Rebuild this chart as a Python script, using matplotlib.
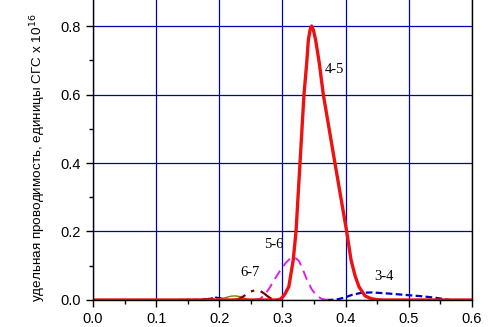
import matplotlib
matplotlib.use("Agg")
from matplotlib import pyplot as plt
from matplotlib.ticker import MultipleLocator, FormatStrFormatter

# transition 4-5 (red, thick)
x45 = [0.0, 0.09, 0.29, 0.296, 0.300, 0.304, 0.310, 0.317, 0.3214, 0.3277, 0.334,
       0.3383, 0.3409, 0.3440, 0.3462, 0.3490, 0.3525, 0.3583, 0.3646, 0.383, 0.4016,
       0.4085, 0.415, 0.421, 0.4306, 0.44, 0.45, 0.46, 0.6]
y45 = [0.0, 0.0, 0.0, 0.002, 0.008, 0.018, 0.039, 0.117, 0.20, 0.40, 0.60,
       0.691, 0.759, 0.792, 0.80, 0.788, 0.759, 0.691, 0.60, 0.40, 0.20,
       0.117, 0.07, 0.039, 0.012, 0.004, 0.001, 0.0, 0.0]

# transition 5-6 (magenta, dashed)
x56 = [0.255, 0.264, 0.272, 0.280, 0.288, 0.296, 0.305, 0.312, 0.319, 0.326,
       0.332, 0.338, 0.346, 0.354, 0.362, 0.372]
y56 = [0.0, 0.003, 0.015, 0.037, 0.062, 0.085, 0.108, 0.121, 0.125, 0.114,
       0.090, 0.062, 0.032, 0.013, 0.003, 0.0]

# transition 3-4 (blue, short dashes)
x34 = [0.37, 0.385, 0.40, 0.41, 0.425, 0.44, 0.46, 0.48, 0.50, 0.52, 0.54, 0.555, 0.565]
y34 = [0.0, 0.001, 0.008, 0.015, 0.021, 0.022, 0.020, 0.017, 0.014, 0.011, 0.007, 0.003, 0.0]

# transition 6-7 (dark red, dash-dot)
x67 = [0.222, 0.229, 0.236, 0.243, 0.250, 0.258, 0.265, 0.271, 0.277, 0.283, 0.288]
y67 = [0.0, 0.002, 0.008, 0.017, 0.025, 0.029, 0.026, 0.019, 0.010, 0.003, 0.0]

# transition 7-8 (olive, thin)
x78 = [0.19, 0.20, 0.21, 0.218, 0.225, 0.232, 0.238, 0.244, 0.25]
y78 = [0.0, 0.002, 0.007, 0.011, 0.012, 0.010, 0.006, 0.002, 0.0]

# higher transitions, tiny
x89 = [0.16, 0.17, 0.178, 0.185, 0.192, 0.20, 0.21]
y89 = [0.0, 0.002, 0.004, 0.005, 0.004, 0.002, 0.0]
x910 = [0.17, 0.18, 0.188, 0.195, 0.202, 0.21, 0.22]
y910 = [0.0, 0.003, 0.006, 0.008, 0.006, 0.002, 0.0]
x1011 = [0.10, 0.12, 0.14, 0.155, 0.165, 0.175, 0.185]
y1011 = [0.0, 0.0005, 0.0015, 0.002, 0.0015, 0.0005, 0.0]

labels = {"4-5": (0.3815, 0.672), "5-6": (0.2865, 0.161),
          "6-7": (0.249, 0.079), "3-4": (0.4607, 0.070)}

ylabel = "удельная проводимость, единицы СГС x 10$^{16}$"

plt.rcParams['font.family'] = ['Liberation Sans', 'DejaVu Sans']

fig = plt.figure(figsize=(4.91, 3.27), dpi=100)
ax = fig.add_axes([0.1894, 0.0826, 0.7719, 0.9174])

ax.plot(x1011, y1011, '--', color='#008000', lw=1.0)
ax.plot(x89, y89, '--', color='#800080', lw=1.0)
ax.plot(x910, y910, '-.', color='#000080', lw=1.0)
ax.plot(x78, y78, '-', color='#808000', lw=1.0)
ax.plot(x67, y67, linestyle=(0, (6, 3, 1.5, 3)), color='#800000', lw=1.6)
ax.plot(x34, y34, linestyle=(0, (3, 1.5)), color='#0000cc', lw=1.6)
ax.plot(x56, y56, linestyle=(0, (5, 3)), color='#e020e0', lw=1.4)
ax.plot(x45, y45, '-', color='#ee1111', lw=2.4)

for t, (tx, ty) in labels.items():
  ax.text(tx, ty, t, family=['Liberation Serif'], fontsize=10.5,
          ha='center', va='center')

ax.set_xlim(0.0, 0.6)
ax.set_ylim(0.0, 0.876)
ax.xaxis.set_major_locator(MultipleLocator(0.1))
ax.xaxis.set_minor_locator(MultipleLocator(0.05))
ax.yaxis.set_major_locator(MultipleLocator(0.2))
ax.yaxis.set_minor_locator(MultipleLocator(0.1))
ax.xaxis.set_major_formatter(FormatStrFormatter('%.1f'))
ax.yaxis.set_major_formatter(FormatStrFormatter('%.1f'))
ax.tick_params(which='major', direction='out', length=5, width=1, labelsize=10.5, colors='black')
ax.tick_params(which='minor', direction='out', length=3, width=1)
ax.tick_params(axis='x', pad=4)

ax.grid(True, which='major', color='#0000b0', lw=0.9)
ax.set_axisbelow(True)
ax.spines['top'].set_visible(False)
for s in ('left', 'bottom', 'right'):
  ax.spines[s].set_linewidth(1.0)

ax.set_ylabel(ylabel, fontsize=9.7)
ax.yaxis.set_label_coords(-0.118, 0.475)

fig.savefig('out.png', dpi=100)
